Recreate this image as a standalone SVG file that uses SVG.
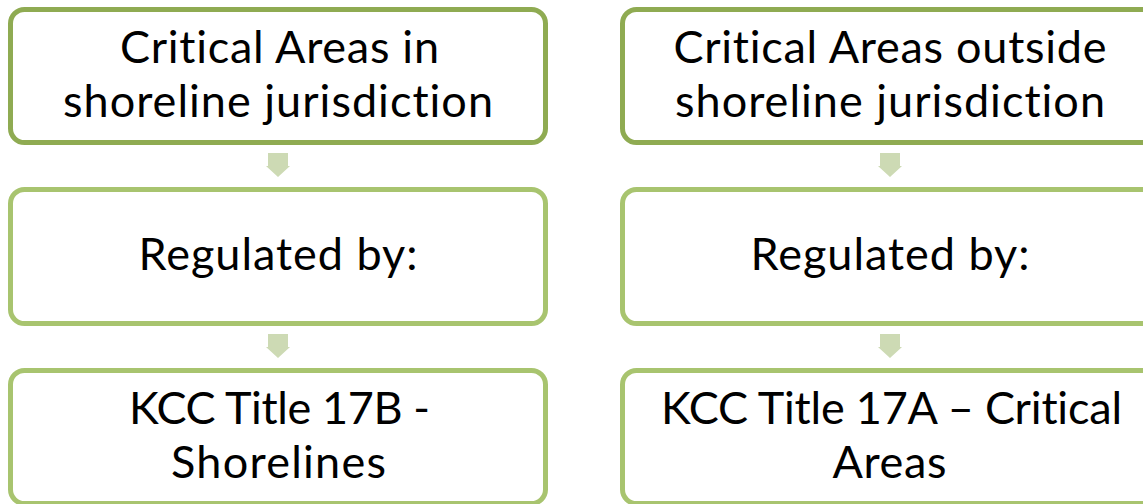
<svg xmlns="http://www.w3.org/2000/svg" width="1143" height="504" viewBox="0 0 1143 504">
<style>
.box{fill:#ffffff;stroke-width:5}
.top{stroke:#8fab52}
.low{stroke:#a8c46f}
.t{font-family:Lato,"Liberation Sans",sans-serif;font-size:45px;fill:#000000;text-anchor:middle;font-variant-ligatures:none}
.arr{fill:#cddab4}
</style>
<defs>
<path id="dn" d="M-10,0 H10 V13 H12 L0,24 L-12,13 H-10 Z"/>
</defs>
<rect width="1143" height="504" fill="#ffffff"/>
<g id="connectors">
<use href="#dn" class="arr" x="278" y="153"/>
<use href="#dn" class="arr" x="278" y="334"/>
<use href="#dn" class="arr" x="890" y="153"/>
<use href="#dn" class="arr" x="890" y="334"/>
</g>
<g id="n1">
<rect class="box top" x="10.5" y="9.5" width="535" height="133" rx="14"/>
<text class="t" x="279.5" y="63" textLength="319">Critical Areas in</text>
<text class="t" x="278" y="117" textLength="430">shoreline jurisdiction</text>
</g>
<g id="n2">
<rect class="box low" x="10.5" y="189.5" width="535" height="134" rx="14"/>
<text class="t" x="278" y="270" textLength="279">Regulated by:</text>
</g>
<g id="n3">
<rect class="box low" x="10.5" y="370.5" width="535" height="133" rx="14"/>
<text class="t" x="279.5" y="424" textLength="301">KCC Title 17B -</text>
<text class="t" x="278.5" y="478" textLength="215">Shorelines</text>
</g>
<g id="n4">
<rect class="box top" x="622.5" y="9.5" width="535" height="133" rx="14"/>
<text class="t" x="890" y="63" textLength="433">Critical Areas outside</text>
<text class="t" x="890" y="117" textLength="430">shoreline jurisdiction</text>
</g>
<g id="n5">
<rect class="box low" x="622.5" y="189.5" width="535" height="134" rx="14"/>
<text class="t" x="890" y="270" textLength="279">Regulated by:</text>
</g>
<g id="n6">
<rect class="box low" x="622.5" y="370.5" width="535" height="133" rx="14"/>
<text class="t" x="891.5" y="424" textLength="461">KCC Title 17A – Critical</text>
<text class="t" x="889.5" y="478" textLength="114">Areas</text>
</g>
</svg>
